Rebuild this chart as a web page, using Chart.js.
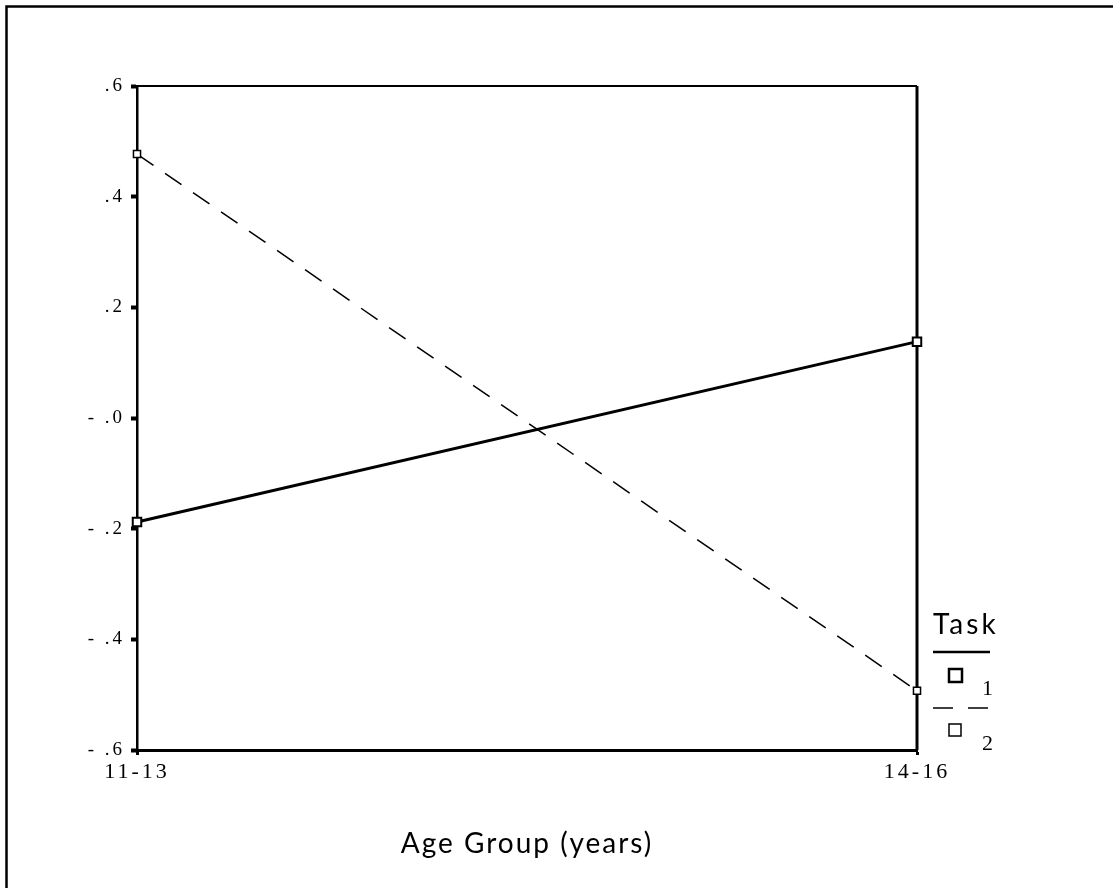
<!DOCTYPE html>
<html>
<head>
<meta charset="utf-8">
<script src="https://cdn.jsdelivr.net/npm/chart.js@4.4.1/dist/chart.umd.min.js"></script>
<style>
  html, body { margin: 0; padding: 0; background: #fff; }
  #wrap { width: 1113px; height: 888px; position: relative; }
</style>
</head>
<body>
<div id="wrap"><canvas id="chart" width="1113" height="888"></canvas></div>
<script>
// data
const ageGroups = ["11-13", "14-16"];
const task1 = [-0.188, 0.138];
const task2 = [0.477, -0.493];
const seriesNames = ["1", "2"];
const legendTitle = "Task";
const xTitle = "Age Group (years)";
const yTickLabels = ["- .6", "- .4", "- .2", "- .0", ".2", ".4", ".6"];//bottom to top

const SERIF = '"Liberation Serif", "Times New Roman", serif';
const SANS = 'Lato, "Open Sans", sans-serif';
const TICK_SPACING = "3px";

//page background, outer frame, plot frame
const framePlugin = {
    id: "frame",
    beforeDraw(chart) {
        const ctx = chart.ctx;
        ctx.save();
        ctx.fillStyle = "#fff";
        ctx.fillRect(0, 0, chart.width, chart.height);
        ctx.strokeStyle = "#000";
        ctx.lineWidth = 2.5;
        ctx.beginPath();
        ctx.moveTo(6.5, chart.height);
        ctx.lineTo(6.5, 6.5);
        ctx.lineTo(chart.width, 6.5);
        ctx.stroke();
        ctx.restore();
        ctx.letterSpacing = TICK_SPACING;//spaced out tick labels like the original
    },
    beforeDatasetsDraw(chart) {
        const ctx = chart.ctx, a = chart.chartArea;
        ctx.save();
        ctx.strokeStyle = "#000";
        ctx.lineWidth = 2;
        ctx.beginPath();
        ctx.moveTo(a.left, a.top);
        ctx.lineTo(a.right, a.top);
        ctx.stroke();
        ctx.lineWidth = 3;
        ctx.beginPath();
        ctx.moveTo(a.right, a.top);
        ctx.lineTo(a.right, a.bottom);
        ctx.stroke();
        ctx.restore();
    }
};

//legend on the right, under the "Task" header
const legendPlugin = {
    id: "taskLegend",
    afterDraw(chart) {
        const ctx = chart.ctx;
        const x0 = chart.chartArea.right + 16;
        ctx.save();
        ctx.letterSpacing = "3px";
        ctx.fillStyle = "#000";
        ctx.strokeStyle = "#000";
        ctx.textBaseline = "middle";
        ctx.textAlign = "left";
        ctx.font = "28px " + SANS;
        ctx.fillText(legendTitle, x0, 625);
        ctx.lineWidth = 2.5;
        ctx.beginPath();
        ctx.moveTo(x0, 652);
        ctx.lineTo(x0 + 57, 652);
        ctx.stroke();
        //entry 1: solid
        ctx.strokeRect(x0 + 16, 669, 13, 13);
        //entry 2: dashed
        ctx.lineWidth = 1.5;
        ctx.setLineDash([20, 15]);
        ctx.beginPath();
        ctx.moveTo(x0, 708);
        ctx.lineTo(x0 + 55, 708);
        ctx.stroke();
        ctx.setLineDash([]);
        ctx.strokeRect(x0 + 16, 724, 12, 12);
        ctx.font = "22px " + SERIF;
        ctx.textAlign = "center";
        ctx.fillText(seriesNames[0], x0 + 56, 689);
        ctx.fillText(seriesNames[1], x0 + 56, 744);
        ctx.restore();
    }
};

const ctxChart = document.getElementById("chart").getContext("2d");
const chart = new Chart(ctxChart, {
    type: "line",
    data: {
        labels: ageGroups,
        datasets: [
            {
                label: seriesNames[0],
                data: task1,
                borderColor: "#000",
                borderWidth: 3,
                pointStyle: "rect",
                pointRadius: 6,
                pointBorderWidth: 2,
                pointBackgroundColor: "#fff",
                pointBorderColor: "#000",
                tension: 0,
                clip: false
            },
            {
                label: seriesNames[1],
                data: task2,
                borderColor: "#000",
                borderWidth: 1.5,
                borderDash: [20, 14],
                pointStyle: "rect",
                pointRadius: 5,
                pointBorderWidth: 1.5,
                pointBackgroundColor: "#fff",
                pointBorderColor: "#000",
                tension: 0,
                clip: false
            }
        ]
    },
    options: {
        responsive: false,
        animation: false,
        events: [],
        layout: { padding: { top: 86, right: 196, bottom: 0, left: 0 } },
        plugins: {
            legend: { display: false },
            tooltip: { enabled: false },
            title: { display: false }
        },
        scales: {
            x: {
                type: "category",
                offset: false,
                grid: { drawOnChartArea: false, drawTicks: true, tickLength: 5, tickWidth: 3, tickColor: "#000" },
                border: { display: true, color: "#000", width: 3 },
                ticks: { color: "#000", font: { family: SERIF, size: 22 }, padding: 4, maxRotation: 0 },
                title: {
                    display: true,
                    text: xTitle,
                    color: "#000",
                    font: { family: SANS, size: 28 },
                    padding: { top: 0, bottom: 27 }
                },
                afterFit: function (scale) {
                    scale.height = 138;
                    if (!scale._spacedTitle) {//title has its own letter spacing
                        const drawTitle = scale.drawTitle;
                        scale.drawTitle = function () {
                            this.ctx.letterSpacing = "2px";
                            drawTitle.call(this);
                            this.ctx.letterSpacing = TICK_SPACING;
                        };
                        scale._spacedTitle = true;
                    }
                }
            },
            y: {
                min: -0.6,
                max: 0.6,
                grid: { drawOnChartArea: false, drawTicks: true, tickLength: 6, tickWidth: 4, tickColor: "#000" },
                border: { display: true, color: "#000", width: 2.5 },
                ticks: {
                    stepSize: 0.2,
                    color: "#000",
                    font: { family: SERIF, size: 19 },
                    padding: 6,
                    callback: function (value, index) { return yTickLabels[index]; }
                },
                afterFit: function (scale) { scale.width = 137; }
            }
        }
    },
    plugins: [framePlugin, legendPlugin]
});
</script>
</body>
</html>
